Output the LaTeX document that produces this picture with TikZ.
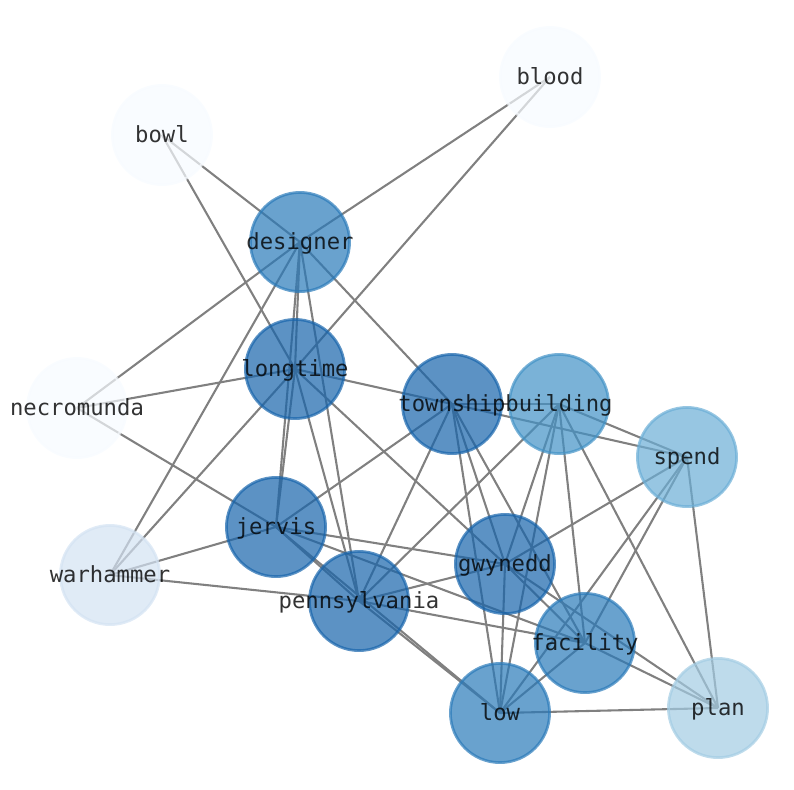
\documentclass[tikz,border=0pt]{standalone}
\usepackage{fontspec}
\newfontfamily\lblfont{DejaVu Sans Mono}
\definecolor{c9}{RGB}{23,100,171}
\definecolor{c8}{RGB}{42,122,185}
\definecolor{c7}{RGB}{66,146,198}
\definecolor{c6}{RGB}{107,174,214}
\definecolor{c5}{RGB}{163,204,227}
\definecolor{c4}{RGB}{211,226,242}
\definecolor{c2}{RGB}{247,251,255}
\tikzset{
  edge/.style={draw=black!50, line width=1.5pt},
  vtx/.style={circle, minimum size=71.4pt, inner sep=0pt, outer sep=0pt,
    fill=#1, draw=#1, fill opacity=0.7, draw opacity=0.7, line width=2pt},
  lbl/.style={font=\lblfont\fontsize{16}{19}\selectfont, text=black, text opacity=0.8,
    inner sep=0pt, outer sep=0pt, text height=12.16pt, text depth=3.78pt, anchor=center,
    yshift=-1.2pt},
}
\begin{document}
\begin{tikzpicture}[x=0.72pt, y=-0.72pt]
\useasboundingbox (0,0) rectangle (794,790);
% centres
\coordinate (blood) at (550,77);
\coordinate (bowl) at (162,135);
\coordinate (designer) at (300,242);
\coordinate (longtime) at (295,369);
\coordinate (necromunda) at (77,408);
\coordinate (township) at (452,404);
\coordinate (building) at (559,404);
\coordinate (spend) at (687,457);
\coordinate (jervis) at (276,527);
\coordinate (warhammer) at (110,575);
\coordinate (gwynedd) at (505,564);
\coordinate (pennsylvania) at (359,601);
\coordinate (facility) at (585,643);
\coordinate (low) at (500,713);
\coordinate (plan) at (718,708);
% edges
\draw[edge] (bowl) -- (designer);
\draw[edge] (bowl) -- (longtime);
\draw[edge] (blood) -- (designer);
\draw[edge] (blood) -- (longtime);
\draw[edge] (designer) -- (necromunda);
\draw[edge] (designer) -- (warhammer);
\draw[edge] (designer) -- (township);
\draw[edge] (designer) -- (jervis);
\draw[edge] (designer) -- (pennsylvania);
\draw[edge] (designer) -- (longtime);
\draw[edge] (longtime) -- (necromunda);
\draw[edge] (longtime) -- (warhammer);
\draw[edge] (longtime) -- (township);
\draw[edge] (township) -- (spend);
\draw[edge] (longtime) -- (jervis);
\draw[edge] (longtime) -- (pennsylvania);
\draw[edge] (longtime) -- (gwynedd);
\draw[edge] (necromunda) -- (jervis);
\draw[edge] (warhammer) -- (jervis);
\draw[edge] (warhammer) -- (pennsylvania);
\draw[edge] (township) -- (building);
\draw[edge] (township) -- (jervis);
\draw[edge] (township) -- (pennsylvania);
\draw[edge] (township) -- (low);
\draw[edge] (township) -- (gwynedd);
\draw[edge] (township) -- (facility);
\draw[edge] (building) -- (spend);
\draw[edge] (building) -- (pennsylvania);
\draw[edge] (building) -- (gwynedd);
\draw[edge] (building) -- (low);
\draw[edge] (building) -- (facility);
\draw[edge] (building) -- (plan);
\draw[edge] (spend) -- (gwynedd);
\draw[edge] (spend) -- (facility);
\draw[edge] (spend) -- (low);
\draw[edge] (spend) -- (plan);
\draw[edge] (jervis) -- (gwynedd);
\draw[edge] (jervis) -- (facility);
\draw[edge] (jervis) -- (pennsylvania);
\draw[edge] (jervis) -- (low);
\draw[edge] (pennsylvania) -- (low);
\draw[edge] (pennsylvania) -- (gwynedd);
\draw[edge] (pennsylvania) -- (facility);
\draw[edge] (gwynedd) -- (low);
\draw[edge] (gwynedd) -- (facility);
\draw[edge] (gwynedd) -- (plan);
\draw[edge] (facility) -- (low);
\draw[edge] (facility) -- (plan);
\draw[edge] (low) -- (plan);
% circles
\node[vtx=c2] (c-blood) at (blood) {};
\node[vtx=c2] (c-bowl) at (bowl) {};
\node[vtx=c8] (c-designer) at (designer) {};
\node[vtx=c9] (c-longtime) at (longtime) {};
\node[vtx=c2] (c-necromunda) at (necromunda) {};
\node[vtx=c9] (c-township) at (township) {};
\node[vtx=c7] (c-building) at (building) {};
\node[vtx=c6] (c-spend) at (spend) {};
\node[vtx=c9] (c-jervis) at (jervis) {};
\node[vtx=c4] (c-warhammer) at (warhammer) {};
\node[vtx=c9] (c-gwynedd) at (gwynedd) {};
\node[vtx=c9] (c-pennsylvania) at (pennsylvania) {};
\node[vtx=c8] (c-facility) at (facility) {};
\node[vtx=c8] (c-low) at (low) {};
\node[vtx=c5] (c-plan) at (plan) {};
% labels
\node[lbl] (t-blood) at (blood) {blood};
\node[lbl] (t-bowl) at (bowl) {bowl};
\node[lbl] (t-designer) at (designer) {designer};
\node[lbl] (t-longtime) at (longtime) {longtime};
\node[lbl] (t-necromunda) at (necromunda) {necromunda};
\node[lbl] (t-township) at (township) {township};
\node[lbl] (t-building) at (building) {building};
\node[lbl] (t-spend) at (spend) {spend};
\node[lbl] (t-jervis) at (jervis) {jervis};
\node[lbl] (t-warhammer) at (warhammer) {warhammer};
\node[lbl] (t-gwynedd) at (gwynedd) {gwynedd};
\node[lbl] (t-pennsylvania) at (pennsylvania) {pennsylvania};
\node[lbl] (t-facility) at (facility) {facility};
\node[lbl] (t-low) at (low) {low};
\node[lbl] (t-plan) at (plan) {plan};
\end{tikzpicture}
\end{document}
